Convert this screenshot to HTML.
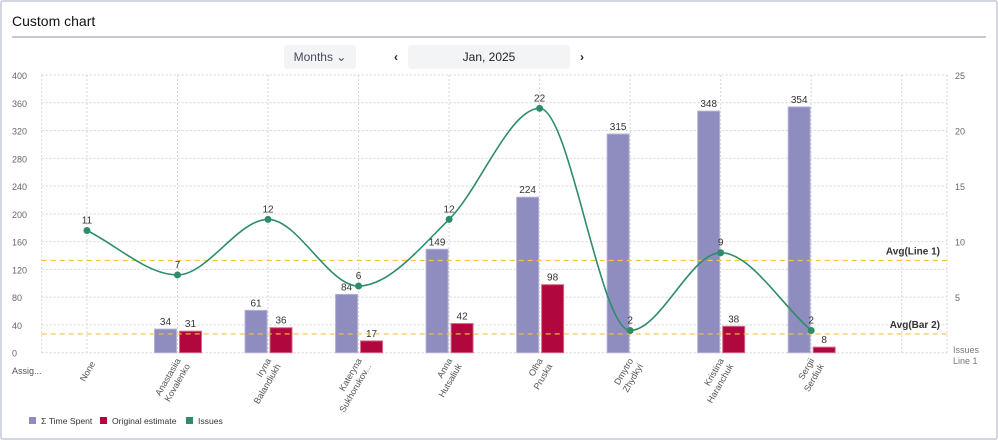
<!DOCTYPE html>
<html><head><meta charset="utf-8"><style>
body{margin:0;width:998px;height:440px;background:#fff;font-family:"Liberation Sans",sans-serif;overflow:hidden}
#frame{position:absolute;left:0;top:0;width:994px;height:436px;border:2px solid #d4d7e0;border-radius:3px}
#title{position:absolute;left:12px;top:13px;font-size:14px;color:#111}
#sep{position:absolute;left:12px;top:36px;width:974px;height:2px;background:#c5c9d6}
.btn{position:absolute;background:#f3f4f6;border-radius:3px;font-size:12px;color:#444a5c;text-align:center;line-height:24px}
svg{position:absolute;left:0;top:0}
</style></head><body>
<div id="frame"></div>
<div id="title">Custom chart</div>
<div id="sep"></div>
<div class="btn" style="left:284px;top:45px;width:72px;height:24px">Months &#8964;</div>
<div class="btn" style="left:386px;top:45px;width:20px;height:24px;background:none;font-weight:bold;color:#223">‹</div>
<div class="btn" style="left:408px;top:45px;width:162px;height:24px;color:#222">Jan, 2025</div>
<div class="btn" style="left:572px;top:45px;width:20px;height:24px;background:none;font-weight:bold;color:#223">›</div>
<svg id="chart" width="998" height="440"></svg>
<script>
const categories=[["None"],["Anastasiia","Kovalenko"],["Iryna","Balandiukh"],["Kateryna","Sukhorukov..."],["Anna","Hutsaliuk"],["Olha","Pruska"],["Dmytro","Zhydkyi"],["Kristina","Haranchuk"],["Sergii","Serdiuk"],[""]];
const timeSpent=[null,34,61,84,149,224,315,348,354,null];
const originalEstimate=[null,31,36,17,42,98,null,38,8,null];
const issues=[11,7,12,6,12,22,2,9,2,null];
const leftTicks=[0,40,80,120,160,200,240,280,320,360,400];
const rightTicks=[5,10,15,20,25];

const NS="http://www.w3.org/2000/svg",svg=document.getElementById('chart');
const L=41.7,R=947,T=75,B=352.7,n=categories.length,bw=(R-L)/n;
const xc=i=>L+bw*(i+0.5);
const yl=v=>B-(v/400)*(B-T);
const yr=v=>B-(v/25)*(B-T);
function mk(tag,at,txt){const e=document.createElementNS(NS,tag);for(const k in at)e.setAttribute(k,at[k]);if(txt!=null)e.textContent=txt;svg.appendChild(e);return e;}
leftTicks.forEach(t=>{const e=mk('line',{x1:L,x2:R,y1:yl(t),y2:yl(t),stroke:'#d6d6d6','stroke-dasharray':'2,2'});

const l=mk('text',{x:12,y:yl(t)+4,'font-size':9,fill:'#666'},t);
});
[L,R].concat(categories.map((c,i)=>xc(i))).forEach(x=>{const e=mk('line',{x1:x,x2:x,y1:T,y2:B,stroke:'#d6d6d6','stroke-dasharray':'2,2'});
});
rightTicks.forEach(t=>{const l=mk('text',{x:955,y:yr(t)+4,'font-size':9,fill:'#666'},t);
});
function bars(arr,off,color,stroke,name){arr.forEach((v,i)=>{if(v==null)return;const x=xc(i)+off;
const r=mk('rect',{x:x,y:yl(v),width:22,height:B-yl(v),fill:color,stroke:stroke,'stroke-width':1});

const t=mk('text',{x:x+11,y:yl(v)-4,'font-size':10,fill:'#333','text-anchor':'middle'},v);
});}
bars(timeSpent,-23,'#8f8dbf','#b3b1d8','time-spent-bar');
bars(originalEstimate,2,'#b0073f','#d36b8a','original-estimate-bar');
const vals=issues.filter(v=>v!=null);
const avgLine=vals.reduce((a,b)=>a+b,0)/n;
const avgBar=originalEstimate.filter(v=>v!=null).reduce((a,b)=>a+b,0)/n;
[[yr(avgLine),'Avg(Line 1)','avg-line1'],[yl(avgBar),'Avg(Bar 2)','avg-bar2']].forEach(([y,lab,nm])=>{
const e=mk('line',{x1:L,x2:R,y1:y,y2:y,stroke:'#f5c242','stroke-width':1.2,'stroke-dasharray':'5,4'});

const t=mk('text',{x:940,y:y-6,'font-size':10,'font-weight':'bold',fill:'#333','text-anchor':'end'},lab);
});
const pts=issues.map((v,i)=>v==null?null:[xc(i),yr(v)]).filter(p=>p);
function monotone(p){const m=p.length,d=[],s=[];for(let i=0;i<m-1;i++)s.push((p[i+1][1]-p[i][1])/(p[i+1][0]-p[i][0]));
for(let i=0;i<m;i++){if(i==0)d.push(s[0]);else if(i==m-1)d.push(s[m-2]);else d.push(s[i-1]*s[i]<=0?0:(s[i-1]+s[i])/2);}
for(let i=0;i<m-1;i++){if(s[i]==0){d[i]=d[i+1]=0;continue;}const a=d[i]/s[i],b=d[i+1]/s[i],h=a*a+b*b;if(h>9){const t=3/Math.sqrt(h);d[i]=t*a*s[i];d[i+1]=t*b*s[i];}}
let str='M'+p[0][0]+','+p[0][1];for(let i=0;i<m-1;i++){const h=(p[i+1][0]-p[i][0])/3;
str+=' C'+(p[i][0]+h)+','+(p[i][1]+h*d[i])+' '+(p[i+1][0]-h)+','+(p[i+1][1]-h*d[i+1])+' '+p[i+1][0]+','+p[i+1][1];}return str;}
const path=mk('path',{d:monotone(pts),fill:'none',stroke:'#2e8c68','stroke-width':1.6});

issues.forEach((v,i)=>{if(v==null)return;const c=mk('circle',{cx:xc(i),cy:yr(v),r:3.5,fill:'#2e8c68'});

const t=mk('text',{x:xc(i),y:yr(v)-7,'font-size':10,fill:'#333','text-anchor':'middle'},v);
});
categories.forEach((c,i)=>{if(!c[0])return;const x=xc(i),y=362;
const t=mk('text',{transform:`translate(${x+6},${y}) rotate(-60)`,'font-size':9,fill:'#555','text-anchor':'end'});

c.forEach((w,j)=>{const s=document.createElementNS(NS,'tspan');s.setAttribute('x',0);s.setAttribute('dy',j==0?(c.length>1?-3:3):11);s.textContent=w;t.appendChild(s);});});
const a=mk('text',{x:12,y:374,'font-size':9,fill:'#555'},'Assig...');
const r1=mk('text',{x:953,y:353,'font-size':9,fill:'#777'},'Issues');
const r2=mk('text',{x:953,y:364,'font-size':9,fill:'#777'},'Line 1');
[['Σ Time Spent','#8f8dbf',29],['Original estimate','#b0073f',100],['Issues','#2e8c68',186]].forEach(([lab,col,x])=>{
const r=mk('rect',{x:x,y:417,width:7,height:7,fill:col});
const t=mk('text',{x:x+12,y:424,'font-size':8.6,fill:'#333'},lab);});
</script>
</body></html>
